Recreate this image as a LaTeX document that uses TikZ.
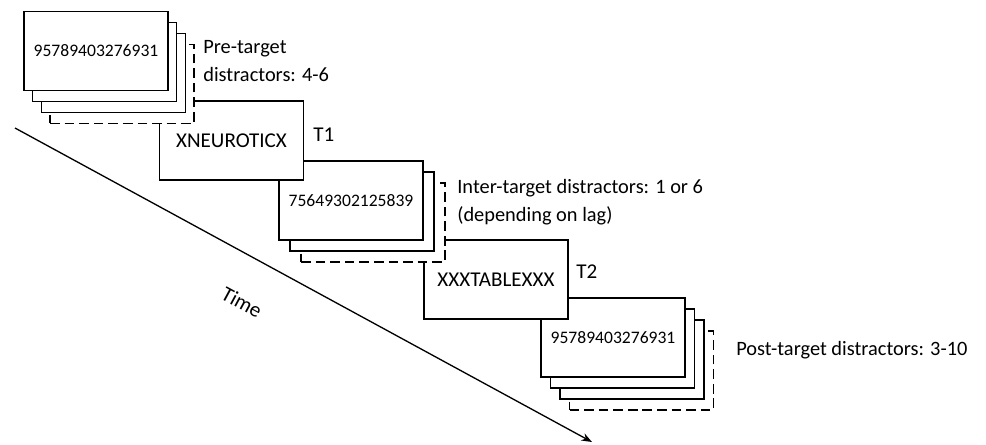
\documentclass[tikz,border=0pt]{standalone}
\usepackage{fontspec}
\setmainfont{Carlito}
\usetikzlibrary{arrows.meta}
\tikzset{
    card/.style={draw, fill=white, line width=0.85pt, minimum width=2.88cm, minimum height=1.58cm, inner sep=0pt},
    lastcard/.style={card, dash pattern=on 5.5pt off 2.8pt},
    digits/.style={font=\fontsize{10}{12}\selectfont},
    word/.style={font=\fontsize{12}{14}\selectfont},
    note/.style={anchor=west, align=left, inner sep=0pt, font=\fontsize{11.6}{16}\selectfont}
}
\begin{document}
\begin{tikzpicture}[x=0.02cm, y=-0.02cm]
    \useasboundingbox (0, 0) rectangle (986, 444);

    % time axis
    \coordinate (tstart) at (15, 128);
    \coordinate (tend) at (592, 442);
    \draw[line width=0.75pt, -{Stealth[length=6pt, width=4.5pt]}] (tstart) -- (tend);
    \node[word, rotate=-28.5] (time) at (242, 302) {Time};

    % post-target distractors
    \node[lastcard] (post3) at (641.5, 370.5) {};
    \node[card] (post2) at (632, 359.5) {};
    \node[card] (post1) at (622.5, 348.5) {};
    \node[card, digits] (post0) at (613, 337.5) {95789403276931};
    \node[note] (postlabel) at (736, 350) {Post-target distractors: 3-10};

    % second target
    \node[card, word] (ttwo) at (496, 279.5) {XXXTABLEXXX};
    \node[word, anchor=west, inner sep=0pt] (ttwolabel) at (576, 272) {T2};

    % inter-target distractors
    \node[lastcard] (inter2) at (373, 222.5) {};
    \node[card] (inter1) at (362, 211.5) {};
    \node[card, digits] (inter0) at (351, 200.5) {75649302125839};
    \node[note] (interlabel) at (457, 202) {Inter-target distractors: 1 or 6\\(depending on lag)};

    % first target
    \node[card, word] (tone) at (231.5, 140.5) {XNEUROTICX};
    \node[word, anchor=west, inner sep=0pt] (tonelabel) at (313, 135) {T1};

    % pre-target distractors
    \node[lastcard] (pre3) at (122, 84) {};
    \node[card] (pre2) at (113.3, 73) {};
    \node[card] (pre1) at (104.6, 62) {};
    \node[card, digits] (pre0) at (96, 51) {95789403276931};
    \node[note] (prelabel) at (203, 61) {Pre-target\\distractors: 4-6};
\end{tikzpicture}
\end{document}
